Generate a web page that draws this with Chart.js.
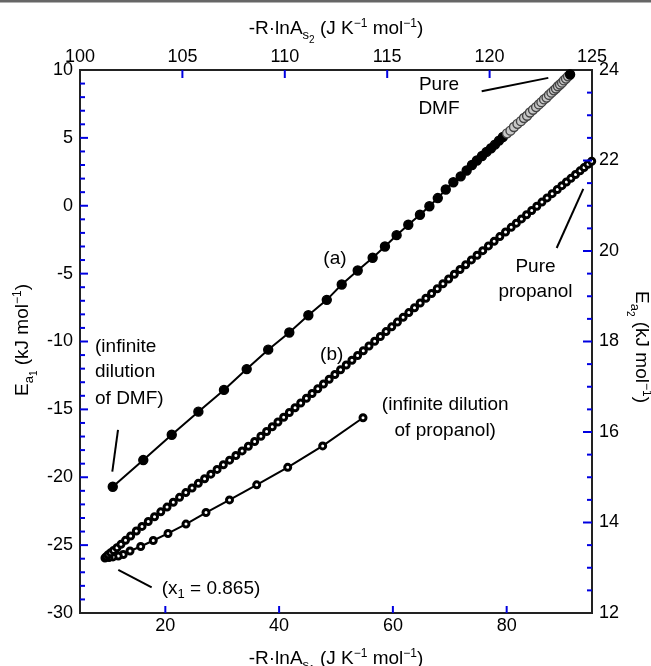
<!DOCTYPE html>
<html><head><meta charset="utf-8">
<script src="https://cdn.jsdelivr.net/npm/chart.js@4.4.1/dist/chart.umd.min.js"></script>
<style>html,body{margin:0;padding:0;background:#fff}canvas{display:block}</style>
</head><body>
<canvas id="c" width="651" height="666"></canvas>
<script>
// Curve (a): DMF, plotted against top (-R lnA_s2) and right (Ea2) axes
const curveA_x = [101.60,103.09,104.48,105.78,107.03,108.14,109.19,110.22,111.15,112.05,112.78,113.56,114.29,114.89,115.46,116.03,116.60,117.06,117.47,117.86,118.23,118.59,118.88,
  119.14,119.38,119.63,119.85,120.07,120.26,120.46,120.65,120.85,121.02,121.19,121.36,121.53,121.68,121.83,121.97,122.12,122.27,122.41,122.53,122.66,122.78,122.90,123.02,123.14,123.24,123.34,123.44,123.54,123.63,123.73,123.83,123.93];
const curveA_y = [14.79,15.38,15.94,16.45,16.93,17.39,17.82,18.20,18.58,18.92,19.26,19.57,19.85,20.10,20.35,20.58,20.80,20.99,21.17,21.36,21.52,21.65,21.78,
  21.90,22.00,22.10,22.19,22.27,22.35,22.44,22.52,22.60,22.66,22.74,22.81,22.87,22.94,22.99,23.06,23.12,23.18,23.24,23.29,23.35,23.39,23.45,23.50,23.55,23.59,23.64,23.68,23.72,23.77,23.81,23.86,23.90];
// Curve (b): propanol, plotted against bottom (-R lnA_s1) and left (Ea1) axes
const curveB_x = [54.75,47.66,41.51,36.06,31.28,27.15,23.63,20.47,17.88,15.67,13.79,12.61,11.73,10.80,10.10,
  9.39,9.6,9.95,10.4,10.9,11.5,12.2,13.0,13.9,14.9,15.9,17.0,18.1,19.2,20.3,21.4,22.5,23.6,24.7,25.8,26.9,28.0,29.1,30.2,31.3,32.4,33.5,34.6,35.7,36.8,
  37.8,38.8,39.8,40.8,41.8,42.8,43.8,44.8,45.8,46.8,47.8,48.8,49.8,50.8,51.8,52.8,53.8,54.8,55.8,56.8,57.8,58.8,59.8,60.8,61.8,62.8,63.8,64.8,65.8,66.8,
  67.8,68.8,69.8,70.8,71.8,72.8,73.8,74.8,75.8,76.8,77.8,78.8,79.8,80.8,81.7,82.6,83.5,84.4,85.3,86.2,87.1,88.0,88.9,89.7,90.5,91.3,92.1,92.9,93.6,94.3,94.95];
const curveB_y = [-15.62,-17.69,-19.27,-20.56,-21.67,-22.60,-23.45,-24.14,-24.66,-25.10,-25.43,-25.69,-25.80,-25.87,-25.91,
  -25.95,-25.86,-25.71,-25.56,-25.39,-25.19,-24.94,-24.65,-24.33,-23.96,-23.62,-23.26,-22.91,-22.55,-22.20,-21.84,-21.48,-21.13,-20.79,-20.45,-20.11,-19.77,-19.42,-19.08,-18.74,-18.40,-18.06,-17.72,-17.37,-16.98,
  -16.63,-16.28,-15.93,-15.58,-15.23,-14.88,-14.53,-14.18,-13.83,-13.48,-13.13,-12.78,-12.43,-12.08,-11.73,-11.38,-11.03,-10.68,-10.33,-9.98,-9.63,-9.27,-8.92,-8.57,-8.22,-7.87,-7.51,-7.16,-6.81,-6.46,
  -6.11,-5.75,-5.40,-5.05,-4.70,-4.35,-3.99,-3.65,-3.31,-2.96,-2.62,-2.27,-1.93,-1.59,-1.28,-0.97,-0.66,-0.35,-0.04,0.27,0.58,0.89,1.20,1.48,1.75,2.02,2.30,2.57,2.81,3.06,3.28];

const bottomTicks = [20,40,60,80];
const topTicks = [100,105,110,115,120,125];
const leftTicks = [-30,-25,-20,-15,-10,-5,0,5,10];
const rightTicks = [12,14,16,18,20,22,24];

const FONT = '"Liberation Sans", Arial, Helvetica, sans-serif';
const BLUE = '#0000e0';
const FS = 19;

function pts(xs, ys){ const n = Math.min(xs.length, ys.length); const o=[]; for(let i=0;i<n;i++) o.push({x:xs[i], y:ys[i]}); return o; }

function rich(ctx, segs, x, y, align, rot){
  ctx.save(); ctx.translate(x,y); ctx.rotate(rot||0);
  ctx.textBaseline='alphabetic'; ctx.textAlign='left'; ctx.fillStyle='#000';
  let w=0; for(const s of segs){ ctx.font = s[1]+'px '+FONT; w += ctx.measureText(s[0]).width; }
  let cx = align==='center' ? -w/2 : 0;
  for(const s of segs){ ctx.font = s[1]+'px '+FONT; ctx.fillText(s[0], cx, s[2]); cx += ctx.measureText(s[0]).width; }
  ctx.restore();
}

const tickPlugin = {
  id:'inTicks',
  afterDraw(chart){
    const ctx = chart.ctx, a = chart.chartArea, S = chart.scales;
    ctx.save(); ctx.strokeStyle = BLUE; ctx.lineWidth = 2;
    const hline = (x,y,len)=>{ctx.beginPath();ctx.moveTo(x,y);ctx.lineTo(x+len,y);ctx.stroke();};
    const vline = (x,y,len)=>{ctx.beginPath();ctx.moveTo(x,y);ctx.lineTo(x,y+len);ctx.stroke();};
    for(const v of bottomTicks) vline(S.x.getPixelForValue(v), a.bottom, -7);
    for(const v of [105,110,115,120]) vline(S.x2.getPixelForValue(v), a.top, 8);
    for(let v=-29; v<=9; v++){ const maj = v%5===0; hline(a.left, S.y.getPixelForValue(v), maj?8:5); }
    for(let v=12.5; v<24; v+=0.5){ const maj = v%2===0; hline(a.right, S.y2.getPixelForValue(v), maj?-9:-5); }
    ctx.restore();
    // leader lines
    const X=S.x, Y=S.y, P=(x,y)=>[X.getPixelForValue(x), Y.getPixelForValue(y)];
    ctx.save(); ctx.strokeStyle='#000'; ctx.lineWidth=2;
    const seg=(a1,b1,a2,b2)=>{const p=P(a1,b1), q=P(a2,b2); ctx.beginPath(); ctx.moveTo(p[0],p[1]); ctx.lineTo(q[0],q[1]); ctx.stroke();};
    seg(11.68,-16.51,10.68,-19.58);
    seg(75.61,8.44,87.32,9.42);
    seg(88.79,-3.11,93.47,1.24);
    seg(11.73,-26.83,17.60,-28.11);
    ctx.restore();
    // labels
    const T=(txt,x,y,al)=>{const p=P(x,y); rich(ctx,[[txt,FS,0]],p[0],p[1]+7,al,0);};
    T('(a)',49.82,-3.75,'center');
    T('(b)',49.24,-10.85,'center');
    T('(infinite dilution',69.2,-14.52,'center');
    T('of propanol)',69.2,-16.43,'center');
    T('(infinite',7.64,-10.24,'left');
    T('dilution',7.64,-12.08,'left');
    T('of DMF)',7.64,-14.08,'left');
    T('Pure',68.10,9.06,'center');
    T('DMF',68.10,7.24,'center');
    T('Pure',85.07,-4.34,'center');
    T('propanol',85.07,-6.18,'center');
    const q=P(19.36,-28.06);
    rich(ctx,[['(x',FS,0],['1',13,4],[' = 0.865)',FS,0]],q[0],q[1]+7,'left',0);
    // axis titles
    rich(ctx,[['-R·lnA',FS,0],['s',13,5],['2',10,9],[' (J K',FS,0],['−1',12,-7],[' mol',FS,0],['−1',12,-7],[')',FS,0]],336,34,'center',0);
    rich(ctx,[['-R·lnA',FS,0],['s',13,5],['1',10,9],[' (J K',FS,0],['−1',12,-7],[' mol',FS,0],['−1',12,-7],[')',FS,0]],336,664,'center',0);
    rich(ctx,[['E',FS,0],['a',13,5],['1',10,9],[' (kJ mol',FS,0],['−1',12,-7],[')',FS,0]],28,340,'center',-Math.PI/2);
    rich(ctx,[['E',FS,0],['a',13,5],['2',10,9],[' (kJ mol',FS,0],['−1',12,-7],[')',FS,0]],636,347,'center',Math.PI/2);
    ctx.save(); ctx.fillStyle='#666'; ctx.fillRect(0,0,651,2.5); ctx.restore();
  }
};

function axis(pos, min, max, list, size){
  const horiz = pos==='top'||pos==='bottom';
  return {
    type:'linear', position:pos, min:min, max:max,
    afterBuildTicks: s => { s.ticks = list.map(v=>({value:v})); },
    afterFit: s => { if(horiz) s.height = size; else s.width = size; },
    grid:{display:true, drawOnChartArea:false, drawTicks:false},
    border:{display:true, color:'#222', width:2},
    ticks:{color:'#000', font:{size:18, family:FONT}, padding: horiz?2:7, maxRotation:0, autoSkip:false, callback:v=>String(v)}
  };
}

const nA = Math.min(curveA_x.length, curveA_y.length);
const isLight = i => i>=31 && i<nA-1;
new Chart(document.getElementById('c'), {
  type:'scatter',
  data:{ datasets:[
    { label:'(a)', data:pts(curveA_x, curveA_y), xAxisID:'x2', yAxisID:'y2', showLine:true, borderColor:'#000', borderWidth:2, clip:false,
      pointRadius:4.5, pointBorderWidth:1.4,
      pointBackgroundColor: c => isLight(c.dataIndex) ? '#c8c8c8' : '#000',
      pointBorderColor: c => isLight(c.dataIndex) ? '#444' : '#000' },
    { label:'(b)', data:pts(curveB_x, curveB_y), xAxisID:'x', yAxisID:'y', showLine:true, borderColor:'#000', borderWidth:2, clip:false,
      pointRadius:3, pointBorderWidth:3, pointBackgroundColor:'#fff', pointBorderColor:'#000' }
  ]},
  options:{
    responsive:false, animation:false, devicePixelRatio:1,
    layout:{padding:0},
    plugins:{legend:{display:false}, tooltip:{enabled:false}},
    scales:{
      x: axis('bottom',5,95,bottomTicks,53),
      x2: axis('top',100,125,topTicks,70),
      y: axis('left',-30,10,leftTicks,80),
      y2: axis('right',12,24,rightTicks,59)
    }
  },
  plugins:[tickPlugin]
});
</script>
</body></html>
